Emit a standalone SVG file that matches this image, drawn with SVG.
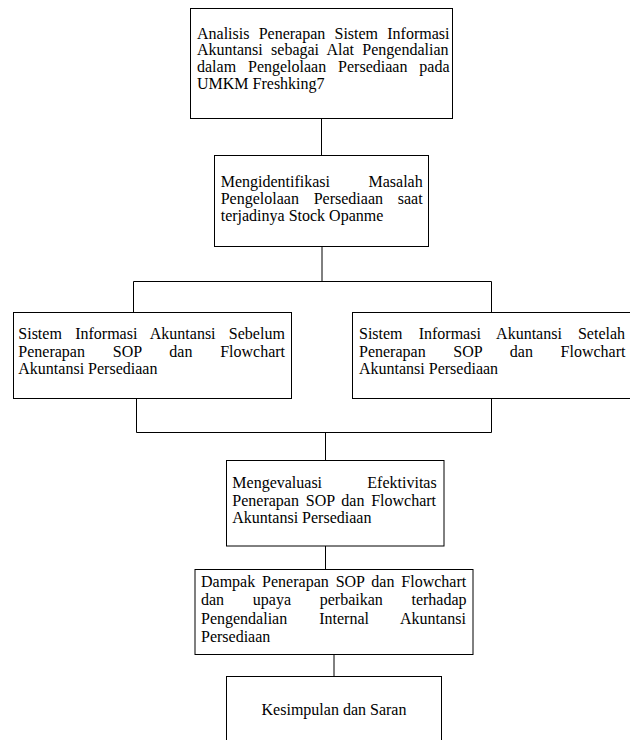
<svg xmlns="http://www.w3.org/2000/svg" width="630" height="740" viewBox="0 0 630 740">
<style>
.box{fill:#fff;stroke:#000;stroke-width:1}
.con{fill:none;stroke:#000;stroke-width:1}
text{font-family:"Liberation Serif","Times New Roman",serif;font-size:16px;fill:#000}
</style>
<rect width="630" height="740" fill="#fff"/>
<g id="connectors">
<path class="con" d="M321.5 118.5V155.5"/>
<path class="con" d="M322 246.5V281.5"/>
<path class="con" d="M133.5 281.5H491.5"/>
<path class="con" d="M133.5 281.5V312.5"/>
<path class="con" d="M491.5 281.5V312.5"/>
<path class="con" d="M136.5 398.5V432.5"/>
<path class="con" d="M491.5 398.5V432.5"/>
<path class="con" d="M136.5 432.5H491.5"/>
<path class="con" d="M325.5 432.5V460.5"/>
<path class="con" d="M325.5 546V569.5"/>
<path class="con" d="M334 654.5V676.5"/>
</g>
<g id="node1">
<rect class="box" x="190.5" y="8.5" width="262" height="110"/>
<text x="197" y="38.5" word-spacing="5.2">Analisis Penerapan Sistem Informasi</text>
<text x="197" y="55.2" word-spacing="4.3">Akuntansi sebagai Alat Pengendalian</text>
<text x="197" y="71.9" word-spacing="7.9">dalam Pengelolaan Persediaan pada</text>
<text x="197" y="88.6">UMKM Freshking7</text>
</g>
<g id="node2">
<rect class="box" x="214.5" y="155.5" width="214" height="91"/>
<text x="220.7" y="186.7" word-spacing="34.5">Mengidentifikasi Masalah</text>
<text x="220.7" y="204" word-spacing="10.8">Pengelolaan Persediaan saat</text>
<text x="220.7" y="221.3">terjadinya Stock Opanme</text>
</g>
<g id="node3">
<rect class="box" x="13.5" y="312.5" width="278" height="86"/>
<text x="18.3" y="339.3" word-spacing="9.3">Sistem Informasi Akuntansi Sebelum</text>
<text x="18.3" y="356.7" word-spacing="23.8">Penerapan SOP dan Flowchart</text>
<text x="18.3" y="374">Akuntansi Persediaan</text>
</g>
<g id="node4">
<rect class="box" x="352.5" y="312.5" width="290" height="86"/>
<text x="359" y="339.3" word-spacing="12.1">Sistem Informasi Akuntansi Setelah</text>
<text x="359" y="356.7" word-spacing="23.7">Penerapan SOP dan Flowchart</text>
<text x="359" y="374">Akuntansi Persediaan</text>
</g>
<g id="node5">
<rect class="box" x="226.5" y="460.5" width="217.5" height="85.5"/>
<text x="232.3" y="488.3" word-spacing="41.3">Mengevaluasi Efektivitas</text>
<text x="232.3" y="505.7" word-spacing="2.8">Penerapan SOP dan Flowchart</text>
<text x="232.3" y="523">Akuntansi Persediaan</text>
</g>
<g id="node6">
<rect class="box" x="195" y="569.5" width="278" height="85"/>
<text x="201" y="587.3" word-spacing="2.9">Dampak Penerapan SOP dan Flowchart</text>
<text x="201" y="605.4" word-spacing="24.7">dan upaya perbaikan terhadap</text>
<text x="201" y="623.5" word-spacing="28">Pengendalian Internal Akuntansi</text>
<text x="201" y="641.6">Persediaan</text>
</g>
<g id="node7">
<rect class="box" x="226.5" y="676.5" width="215" height="80"/>
<text x="334" y="715" text-anchor="middle">Kesimpulan dan Saran</text>
</g>
</svg>
